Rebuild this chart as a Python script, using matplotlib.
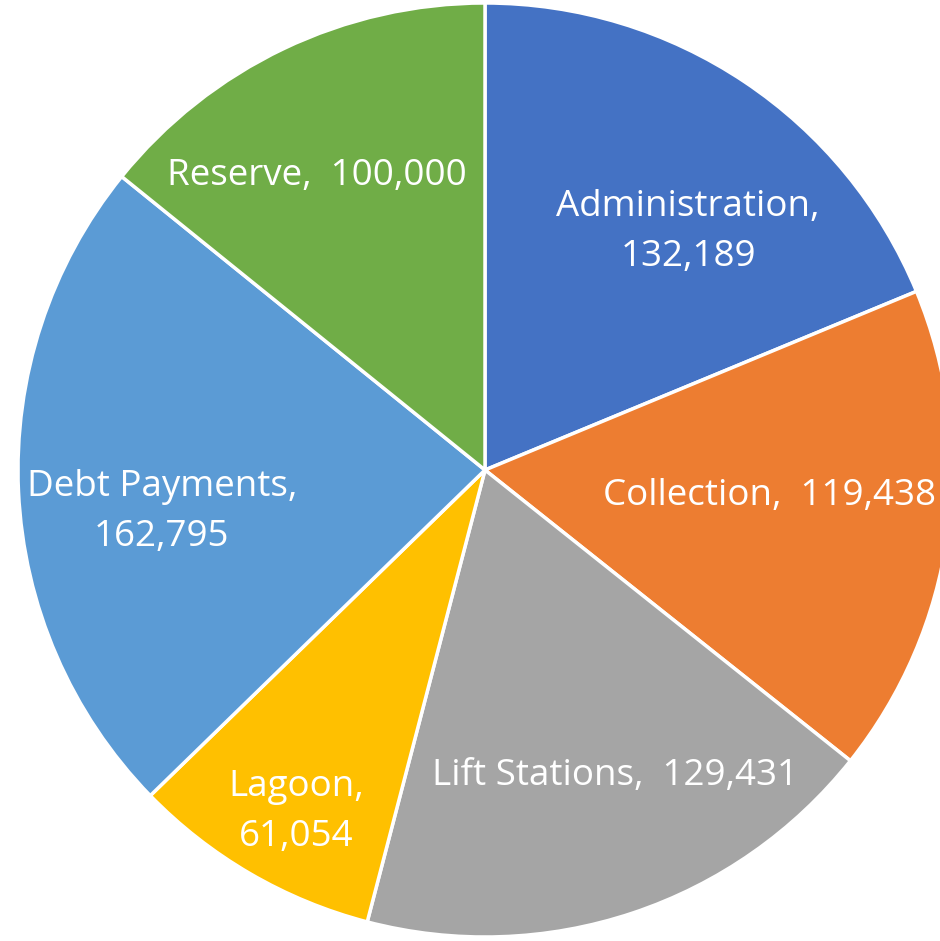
import matplotlib
matplotlib.use("Agg")
from matplotlib import pyplot as plt

categories = ["Administration", "Collection", "Lift Stations", "Lagoon", "Debt Payments", "Reserve"]
values = [132189, 119438, 129431, 61054, 162795, 100000]
colors = ["#4472C4", "#ED7D31", "#A5A5A5", "#FFC000", "#5B9BD5", "#70AD47"]

# label text and where it sits (in units of the pie radius)
label_texts = [
    "Administration,\n132,189",
    "Collection,  119,438",
    "Lift Stations,  129,431",
    "Lagoon,\n61,054",
    "Debt Payments,\n162,795",
    "Reserve,  100,000",
]
label_pos = [(0.435, 0.51), (0.61, -0.056), (0.278, -0.655),
             (-0.405, -0.732), (-0.692, -0.09), (-0.36, 0.63)]

r_px = 467.0
cx, cy = 485.0, 470.0
W, H = 940, 941

fig = plt.figure(figsize=(W / 100, H / 100), dpi=100)
ax = fig.add_axes([0, 0, 1, 1])
ax.pie(values, colors=colors, startangle=90, counterclock=False, radius=1.0,
       wedgeprops=dict(edgecolor="white", linewidth=2.5))
ax.set_xlim(-cx / r_px, (W - cx) / r_px)
ax.set_ylim(-(H - cy) / r_px, cy / r_px)
ax.set_aspect("equal")
ax.axis("off")

for txt, (x, y) in zip(label_texts, label_pos):
    ax.text(x, y, txt, ha="center", va="center", color="white",
            fontsize=26.5, family=["Open Sans", "DejaVu Sans"], linespacing=1.5)

fig.savefig("out.png", dpi=100)
